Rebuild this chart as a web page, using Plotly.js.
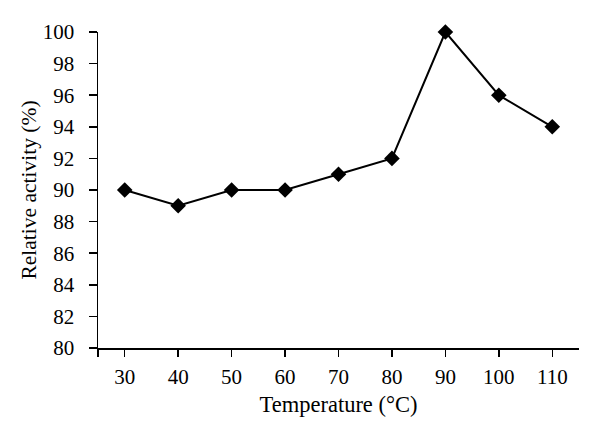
<!DOCTYPE html>
<html>
<head>
<meta charset="utf-8">
<script src="https://cdn.plot.ly/plotly-3.0.1.min.js"></script>
<style>html,body{margin:0;padding:0;background:#fff;}#chart{width:600px;height:438px;}</style>
</head>
<body>
<div id="chart"></div>
<script>
const temperatures = [30, 40, 50, 60, 70, 80, 90, 100, 110];
const relativeActivity = [90, 89, 90, 90, 91, 92, 100, 96, 94];
const xTickValues = [25, 30, 40, 50, 60, 70, 80, 90, 100, 110];
const xTickLabels = ['', '30', '40', '50', '60', '70', '80', '90', '100', '110'];
const yTickValues = [80, 82, 84, 86, 88, 90, 92, 94, 96, 98, 100];

const font = 'Liberation Serif, Times New Roman, serif';

const trace = {
  x: temperatures,
  y: relativeActivity,
  type: 'scatter',
  mode: 'lines+markers',
  line: {color: '#000', width: 2},
  marker: {symbol: 'diamond', size: 12, color: '#000'},
  cliponaxis: false,
  hoverinfo: 'x+y'
};

const layout = {
  width: 600,
  height: 438,
  margin: {l: 98, r: 21, t: 32, b: 90},
  paper_bgcolor: '#fff',
  plot_bgcolor: '#fff',
  showlegend: false,
  font: {family: font, color: '#000', size: 21},
  xaxis: {
    range: [25, 115],
    tickmode: 'array',
    tickvals: xTickValues,
    ticktext: xTickLabels,
    ticks: 'outside',
    ticklen: 7,
    tickwidth: 1.5,
    tickcolor: '#000',
    showline: true,
    linecolor: '#000',
    linewidth: 1.5,
    showgrid: false,
    zeroline: false,
    tickfont: {family: font, size: 21, color: '#000'},
    ticklabelstandoff: 2,
    title: {text: 'Temperature (°C)', font: {family: font, size: 22.5, color: '#000'}, standoff: 8}
  },
  yaxis: {
    range: [80, 100],
    tickmode: 'array',
    tickvals: yTickValues,
    ticks: 'outside',
    ticklen: 8,
    tickwidth: 1.5,
    tickcolor: '#000',
    showline: true,
    linecolor: '#000',
    linewidth: 1.5,
    showgrid: false,
    zeroline: false,
    tickfont: {family: font, size: 21, color: '#000'},
    ticklabelstandoff: 10,
    title: {text: 'Relative activity (%)', font: {family: font, size: 21.5, color: '#000'}, standoff: 0}
  }
};

Plotly.newPlot('chart', [trace], layout, {staticPlot: true, displayModeBar: false});
</script>
</body>
</html>
